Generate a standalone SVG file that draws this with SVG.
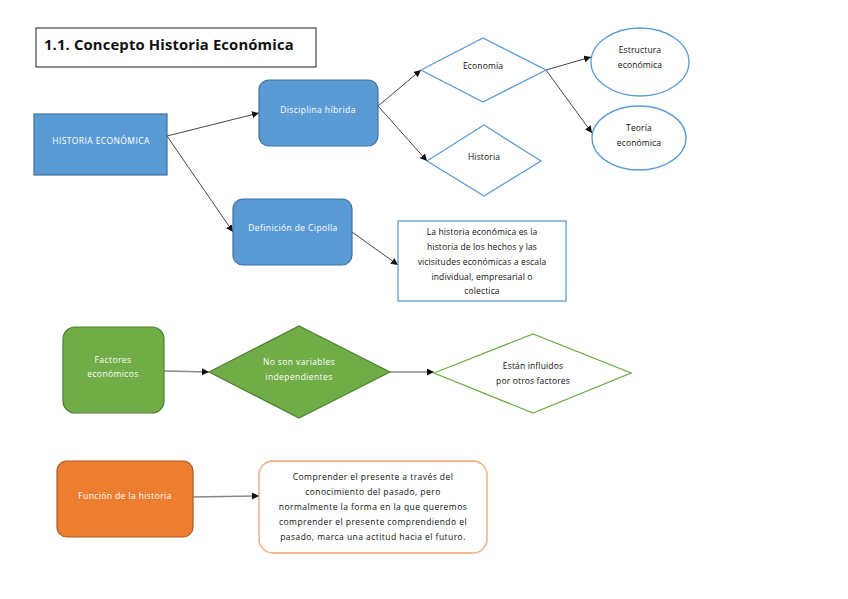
<svg xmlns="http://www.w3.org/2000/svg" width="848" height="599" viewBox="0 0 848 599">
<style>
text{font-family:"Open Sans","Liberation Sans",sans-serif;font-size:8.5px;text-anchor:middle}
.w{fill:#ffffff;letter-spacing:0.4px}
.k{fill:#111111;letter-spacing:0.15px}
.wide{letter-spacing:0.45px}
.blue{fill:#5b9bd5;stroke:#41719c;stroke-width:1.2}
.bo{fill:#ffffff;stroke:#5b9bd5;stroke-width:1.3}
.green{fill:#70ad47;stroke:#507e32;stroke-width:1.2}
.go{fill:#ffffff;stroke:#70ad47;stroke-width:1.3}
.orange{fill:#ed7d31;stroke:#ae5a21;stroke-width:1.2}
.oo{fill:#ffffff;stroke:#f4a46e;stroke-width:1.3}
.c line{stroke:#333333;stroke-width:0.9;marker-end:url(#a)}
.c line.g{stroke:#888888;stroke-width:1.5}
</style>
<defs>
<marker id="a" viewBox="0 0 10 10" refX="10" refY="5" markerWidth="7" markerHeight="7" markerUnits="userSpaceOnUse" orient="auto"><path d="M0,0L10,5L0,10z" fill="#111"/></marker>
</defs>
<rect width="848" height="599" fill="#ffffff"/>
<g id="title">
<rect x="36" y="28" width="280" height="39" fill="#fff" stroke="#222" stroke-width="1"/>
<text x="44" y="50" style="font-size:14.8px;font-weight:bold;text-anchor:start" class="k">1.1. Concepto Historia Económica</text>
</g>
<g class="c" id="connectors">
<line x1="167" y1="136" x2="259" y2="113"/>
<line x1="167" y1="136" x2="233" y2="232"/>
<line x1="378" y1="106" x2="421" y2="70"/>
<line x1="378" y1="106" x2="427" y2="161"/>
<line x1="546" y1="70" x2="591" y2="57"/>
<line x1="546" y1="70" x2="592" y2="133"/>
<line x1="352" y1="232" x2="398" y2="265"/>
<line class="g" x1="164" y1="371" x2="209" y2="372"/>
<line class="g" x1="390" y1="372" x2="434" y2="372"/>
<line class="g" x1="193" y1="497" x2="259" y2="496"/>
</g>
<g id="historia-economica">
<rect x="34" y="114" width="133" height="61" class="blue"/>
<text x="101" y="144" class="w">HISTORIA ECONÓMICA</text>
</g>
<g id="disciplina">
<rect x="259" y="80" width="119" height="66" rx="10" class="blue"/>
<text x="318" y="113" class="w">Disciplina híbrida</text>
</g>
<g id="cipolla">
<rect x="233" y="199" width="119" height="66" rx="10" class="blue"/>
<text x="293" y="231" class="w">Definición de Cipolla</text>
</g>
<g id="economia">
<polygon points="421,70 483,38 546,70 483,102" class="bo"/>
<text x="483" y="69" class="k">Economía</text>
</g>
<g id="historia">
<polygon points="427,161 484,125 541,161 484,196" class="bo"/>
<text x="484" y="160" class="k">Historia</text>
</g>
<g id="estructura">
<ellipse cx="640" cy="62" rx="49" ry="34" class="bo"/>
<text x="640" y="53" class="k">Estructura</text>
<text x="640" y="68" class="k">económica</text>
</g>
<g id="teoria">
<ellipse cx="639" cy="138" rx="47" ry="32" class="bo"/>
<text x="639" y="131" class="k">Teoría</text>
<text x="639" y="146" class="k">económica</text>
</g>
<g id="definicion-texto">
<rect x="398" y="221" width="168" height="80" class="bo"/>
<text x="482" y="235" class="k">La historia económica es la</text>
<text x="482" y="250" class="k">historia de los hechos y las</text>
<text x="482" y="265" class="k">vicisitudes económicas a escala</text>
<text x="482" y="280" class="k">individual, empresarial o</text>
<text x="482" y="294" class="k">colectica</text>
</g>
<g id="factores">
<rect x="63" y="327" width="101" height="86" rx="12" class="green"/>
<text x="113" y="363" class="w">Factores</text>
<text x="113" y="377" class="w">económicos</text>
</g>
<g id="no-son">
<polygon points="209,372 299,326 390,372 299,418" class="green"/>
<text x="299" y="365" class="w">No son variables</text>
<text x="299" y="380" class="w">independientes</text>
</g>
<g id="estan">
<polygon points="434,373 533,334 631,373 533,413" class="go"/>
<text x="533" y="369" class="k">Están influidos</text>
<text x="533" y="384" class="k">por otros factores</text>
</g>
<g id="funcion">
<rect x="57" y="461" width="136" height="76" rx="10" class="orange"/>
<text x="125" y="499" class="w">Función de la historia</text>
</g>
<g id="comprender">
<rect x="259" y="461" width="228" height="92" rx="14" class="oo"/>
<text x="373" y="480" class="k wide">Comprender el presente a través del</text>
<text x="373" y="495" class="k wide">conocimiento del pasado, pero</text>
<text x="373" y="510" class="k wide">normalmente la forma en la que queremos</text>
<text x="373" y="525" class="k wide">comprender el presente comprendiendo el</text>
<text x="373" y="540" class="k wide">pasado, marca una actitud hacia el futuro.</text>
</g>
</svg>
